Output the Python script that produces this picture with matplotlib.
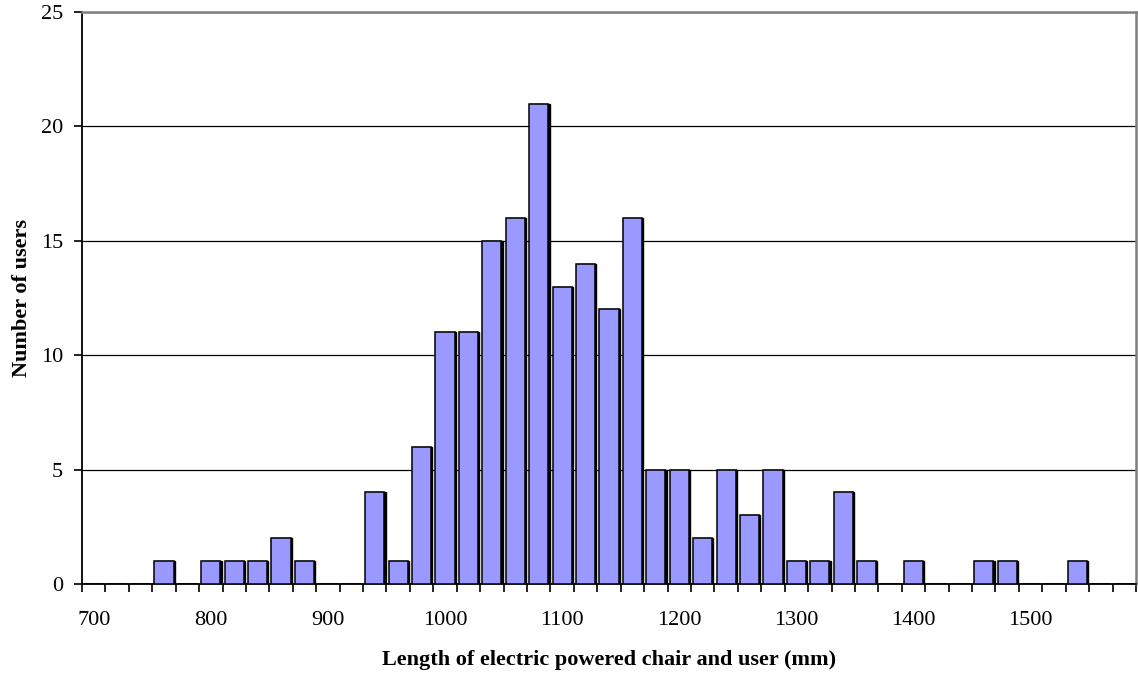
import matplotlib
matplotlib.use("Agg")
import numpy as np
import matplotlib.pyplot as plt
from matplotlib.ticker import FixedLocator, FixedFormatter

# length classes (mm), 20 mm wide
lengths = list(range(700, 1600, 20))
users = [0, 0, 0, 1, 0, 1, 1, 1, 2, 1,
         0, 0, 4, 1, 6, 11, 11, 15, 16, 21,
         13, 14, 12, 16, 5, 5, 2, 5, 3, 5,
         1, 1, 4, 1, 0, 1, 0, 0, 1, 1,
         0, 0, 1, 0, 0]
tick_labels = ["700", "800", "900", "1000", "1100", "1200", "1300", "1400", "1500"]

plt.rcParams["font.family"] = ["Liberation Serif", "DejaVu Serif"]

fig = plt.figure(figsize=(11.38, 6.77), dpi=100)
ax = fig.add_axes([82 / 1138, 1 - 584 / 677, (1136 - 82) / 1138, (584 - 12) / 677])

x = np.arange(len(lengths))
# small dark offset behind each bar gives the shadowed right edge
ax.bar(x + 0.05, users, width=0.82, color="black", edgecolor="black", linewidth=1.0, zorder=2)
ax.bar(x, users, width=0.82, color="#9999ff", edgecolor="black", linewidth=1.1, zorder=3)

ax.set_xlim(-0.5, len(lengths) - 0.5)
ax.set_ylim(0, 25)
ax.set_yticks(range(0, 26, 5))
ax.yaxis.grid(True, color="black", linewidth=0.9, zorder=0)
ax.set_axisbelow(True)

major_pos = [lengths.index(int(t)) for t in tick_labels]
ax.xaxis.set_major_locator(FixedLocator(major_pos))
ax.xaxis.set_major_formatter(FixedFormatter(tick_labels))
ax.xaxis.set_minor_locator(FixedLocator(np.arange(-0.5, len(lengths), 1.0)))
ax.tick_params(axis="x", which="major", length=0, pad=19.5, labelsize=16)
ax.tick_params(axis="x", which="minor", length=6, width=1.2, direction="out")
ax.tick_params(axis="y", length=6, width=1.2, direction="out", pad=7.5, labelsize=16)

# plot area frame: black axes on left/bottom, grey border on top/right
for s in ["top", "right"]:
    ax.spines[s].set_color("#808080")
    ax.spines[s].set_linewidth(1.8)
for s in ["left", "bottom"]:
    ax.spines[s].set_linewidth(1.3)

ax.set_xlabel("Length of electric powered chair and user (mm)", fontsize=16,
              fontweight="bold", labelpad=14)
ax.set_ylabel("Number of users", fontsize=16, fontweight="bold", labelpad=6.6)

plt.savefig("out.png", dpi=100)
